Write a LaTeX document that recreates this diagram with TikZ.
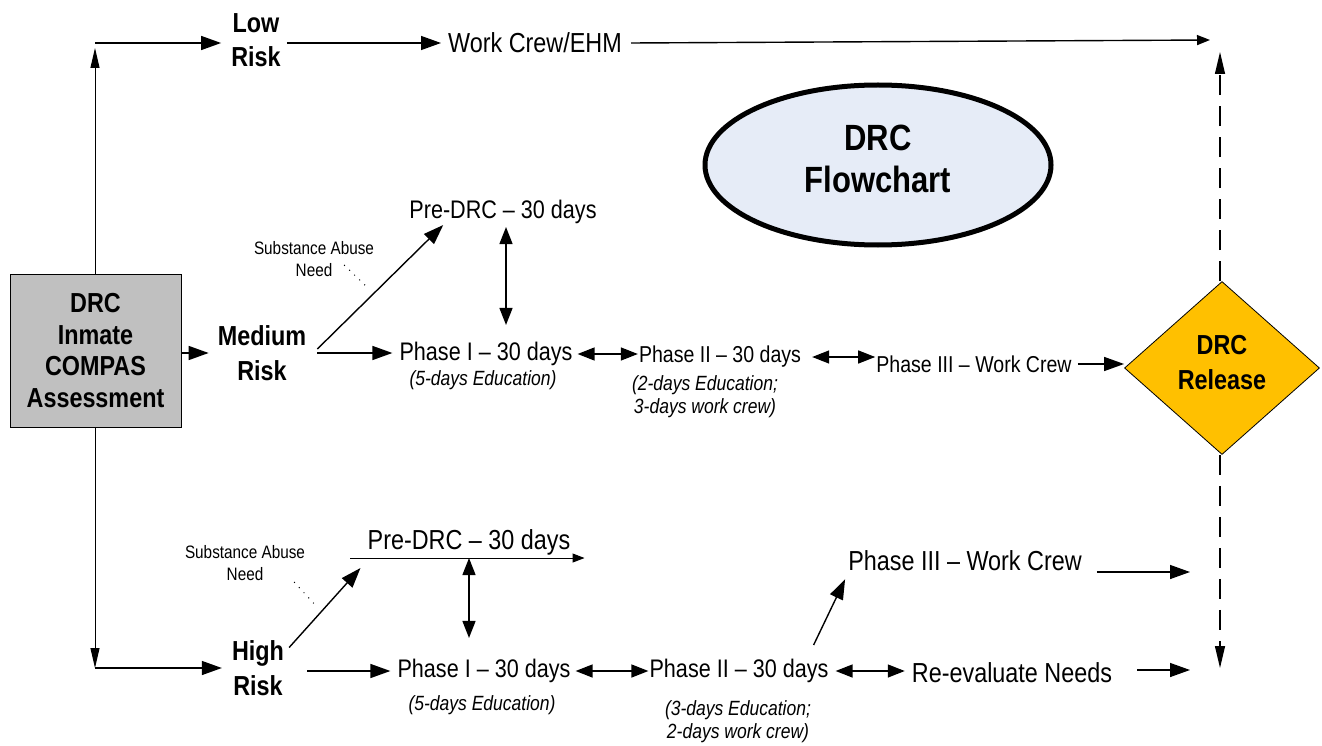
\documentclass[tikz,border=0pt]{standalone}
\usepackage{fontspec}
\setmainfont{Liberation Sans}[FakeStretch=0.85]
\usetikzlibrary{arrows.meta,shapes.geometric}
\definecolor{boxgray}{HTML}{C0C0C0}
\definecolor{ellblue}{HTML}{E6ECF7}
\definecolor{relgold}{HTML}{FFC000}
\begin{document}
\begin{tikzpicture}[x=1pt,y=-1pt,
  tx/.style={inner sep=1pt, font=\fontsize{25.4}{28}\selectfont},
  txs/.style={inner sep=1pt, font=\fontsize{23}{26}\selectfont},
  txl/.style={inner sep=1pt, font=\fontsize{27.5}{30}\selectfont},
  bld/.style={inner sep=1pt, align=center, font=\bfseries\fontsize{27.5}{34.5}\selectfont},
  sml/.style={inner sep=1pt, align=center, font=\fontsize{18}{22.5}\selectfont},
  ital/.style={inner sep=1pt, align=center, font=\itshape\fontsize{20.6}{23}\selectfont},
  arr/.style={line width=1.4pt, -{Triangle[length=20pt,width=14pt]}},
  darr/.style={line width=1.4pt, {Triangle[length=17pt,width=13pt]}-{Triangle[length=17pt,width=13pt]}},
  thinarr/.style={line width=1pt, -{Triangle[length=20pt,width=9pt]}},
  dashln/.style={line width=1.3pt, dash pattern=on 20pt off 11pt},
  dotln/.style={line width=1pt, dash pattern=on 1pt off 6pt},
]
\useasboundingbox (0,0) rectangle (1322,746);

% main nodes
\node[draw, fill=boxgray, line width=0.8pt, minimum width=171pt, minimum height=153pt, inner sep=0pt,
      align=center, font=\bfseries\fontsize{27.5}{31.5}\selectfont] (box) at (95.5,350.5)
      {DRC\\Inmate\\COMPAS\\Assessment};
\node[ellipse, draw, line width=5pt, fill=ellblue, minimum width=346pt, minimum height=160pt,
      align=center, text depth=12pt, font=\bfseries\fontsize{36.5}{42}\selectfont] (ell) at (878,165) {DRC\\Flowchart};
\node[diamond, draw, line width=0.8pt, fill=relgold, minimum width=195pt, minimum height=173pt,
      inner sep=0pt, align=center, text depth=11pt, font=\bfseries\fontsize{27.5}{35}\selectfont] (rel) at (1222,368) {DRC\\Release};

% low risk row
\node[bld] (low) at (256,40) {Low\\Risk};
\node[txl] (work) at (535,43) {Work Crew/EHM};
\coordinate (upend) at (95,48);
\coordinate (topl) at (95,43);
\coordinate (lowend) at (1210,40);
\coordinate (dashtop) at (1220,52);
\coordinate (dashbot) at (1220,668);

\draw[thinarr] (box.north -| topl) -- (upend);
\draw[arr] (topl) -- ([xshift=-9pt]low.west |- topl);
\draw[arr] ([xshift=5pt]low.east |- topl) -- ([xshift=-6pt]work.west);
\draw[line width=1.4pt, -{Triangle[length=13pt,width=10pt]}] ([xshift=8pt]work.east) -- (lowend);
\draw[dashln, -{Triangle[length=22pt,width=10pt]}] (rel.north -| dashtop) -- (dashtop);
\draw[dashln, -{Triangle[length=22pt,width=10pt]}] (rel.south -| dashbot) -- (dashbot);

% medium risk row
\node[bld] (med) at (262,353) {Medium\\Risk};
\node[sml] (sub1) at (314,259) {Substance Abuse\\Need};
\node[tx] (pre1) at (503,212) {Pre-DRC – 30 days};
\node[tx] (ph1m) at (486,354) {Phase I – 30 days};
\node[ital] (ed1m) at (483,380) {(5-days Education)};
\node[txs] (ph2m) at (720,357) {Phase II – 30 days};
\node[ital] (ed2m) at (705,397) {(2-days Education;\\3-days work crew)};
\node[txs] (ph3m) at (974,364) {Phase III – Work Crew};
\coordinate (vm) at (506,0);

\draw[arr] (box.east |- med) -- ([xshift=-8pt]med.west);
\draw[line width=1.4pt, -{Triangle[length=20pt,width=14pt]}] ([xshift=10pt,yshift=4pt]med.east) -- ([xshift=35pt]pre1.south west);
\draw[arr] ([xshift=10pt]med.east) -- ([xshift=-6pt]med.east -| ph1m.west);
\draw[dotln] ([xshift=-31pt,yshift=13pt]sub1.south east) -- ([xshift=-6pt,yshift=-11pt]sub1.south east);
\draw[darr] ([yshift=-2pt]pre1.south -| vm) -- ([yshift=16pt]ph1m.north -| vm);
\draw[darr] ([xshift=4pt]ph1m.east) -- (ph1m.east -| ph2m.west);
\draw[darr] ([xshift=10pt]ph2m.east) -- (ph2m.east -| ph3m.west);
\draw[arr] ([xshift=5pt]ph3m.east) -- (ph3m.east -| rel.west);

% high risk row
\node[bld] (high) at (258,668) {High\\Risk};
\node[sml] (sub2) at (245,563) {Substance Abuse\\Need};
\node[txl] (pre2) at (469,542) {Pre-DRC – 30 days};
\node[tx] (ph1h) at (484,671) {Phase I – 30 days};
\node[ital] (ed1h) at (482,705) {(5-days Education)};
\node[tx] (ph2h) at (739,671) {Phase II – 30 days};
\node[ital] (ed2h) at (738,722) {(3-days Education;\\2-days work crew)};
\node[txl] (ph3h) at (965,561) {Phase III – Work Crew};
\node[txl] (reev) at (1012,673) {Re-evaluate Needs};
\coordinate (botl) at (95,668);
\coordinate (ph3end) at (1190,572);
\coordinate (reevend) at (1190,670);

\draw[thinarr] (box.south -| botl) -- (botl);
\draw[arr] (botl) -- ([xshift=-9pt]high.west |- botl);
\draw[line width=1.4pt, -{Triangle[length=20pt,width=14pt]}] ([xshift=4pt,yshift=-8pt]high.north east) -- ([xshift=-6pt,yshift=-12pt]pre2.south west);
\draw[dotln] ([xshift=-12pt]sub2.south east) -- ([xshift=11pt,yshift=-25pt]sub2.south east);
\draw[line width=1pt, -{Triangle[length=12pt,width=9pt]}] ([xshift=-16pt,yshift=-2pt]pre2.south west) -- ([xshift=13pt,yshift=-2pt]pre2.south east);
\draw[darr] ([yshift=-2pt]pre2.south) -- ([yshift=20pt]pre2.south |- ph1h.north);
\draw[arr] ([xshift=22pt]high.east |- ph1h) -- ([xshift=-6pt]ph1h.west);
\draw[darr] ([xshift=4pt]ph1h.east) -- (ph1h.east -| ph2h.west);
\draw[darr] ([xshift=6pt]ph2h.east) -- ([xshift=-6pt]ph2h.east -| reev.west);
\draw[line width=1.4pt, -{Triangle[length=20pt,width=14pt]}] ([xshift=-16pt,yshift=13pt]ph2h.north east) -- ([xshift=-2pt,yshift=-7pt]ph3h.south west);
\draw[arr] ([xshift=14pt]ph3h.east |- ph3end) -- (ph3end);
\draw[arr] ([xshift=24pt]reev.east |- reevend) -- (reevend);
\end{tikzpicture}
\end{document}
